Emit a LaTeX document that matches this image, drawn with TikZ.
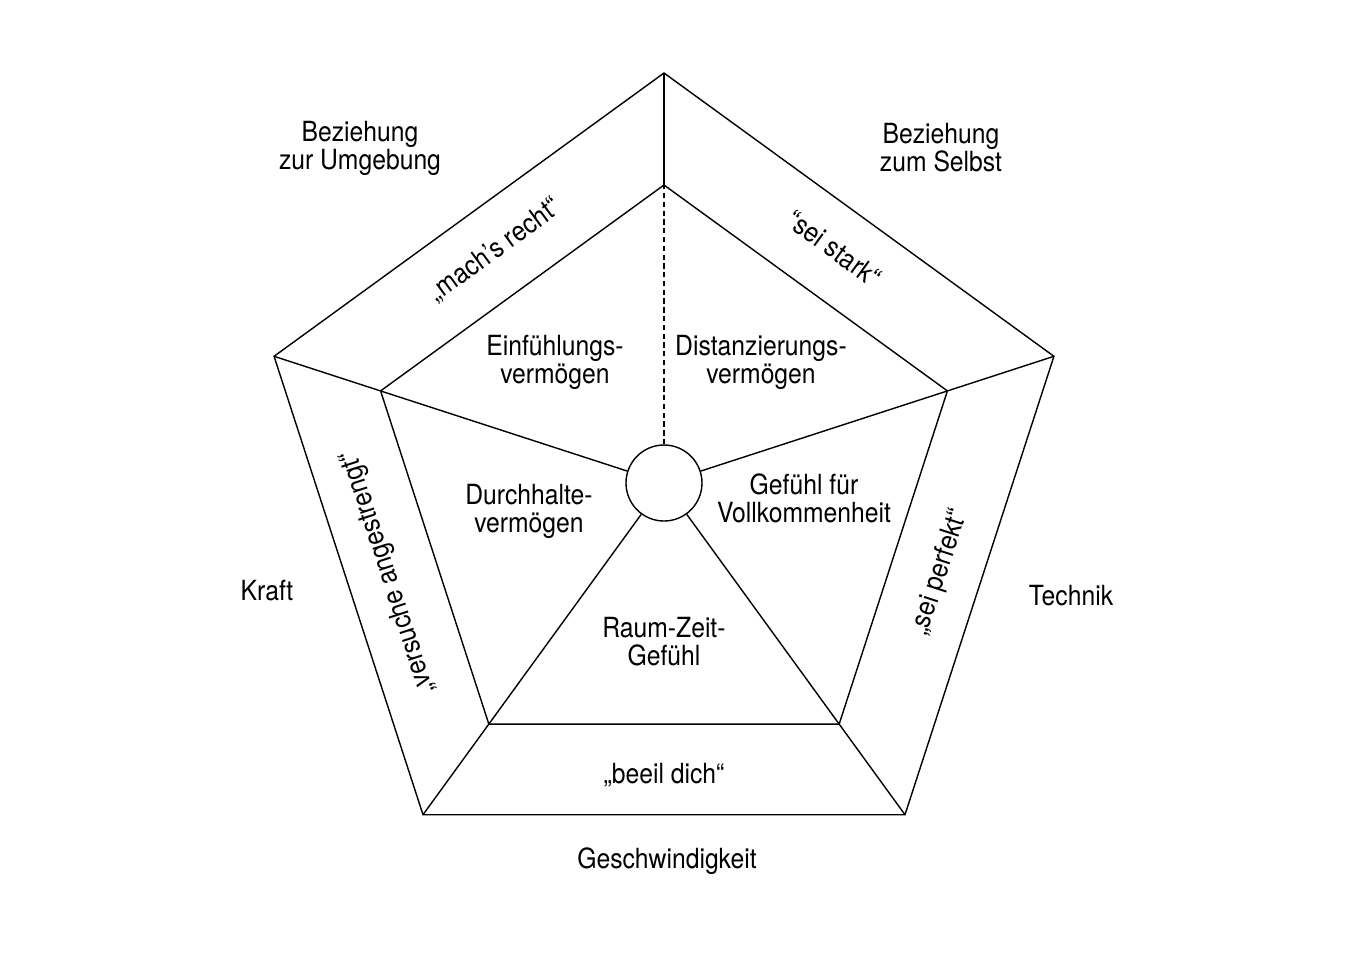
\documentclass[tikz,border=0pt]{standalone}
\usepackage{fontspec}
\setmainfont{TeX Gyre Heros}[FakeStretch=0.89]
\begin{document}
\begin{tikzpicture}[thin,
  lbl/.style={align=center,font=\fontsize{7.9}{8}\selectfont,inner sep=0pt},
  guide/.style={dash pattern=on 1.5pt off 1pt}]
\useasboundingbox (-6.64,-4.74) rectangle (6.90,4.83);
% Ecken aussen und innen
\foreach \a [count=\i] in {90,162,234,306,18}{
  \coordinate (o\i) at (\a:4.10);
  \coordinate (i\i) at (\a:2.98);
}
\draw (o1)--(o2)--(o3)--(o4)--(o5)--cycle;
\draw (i1)--(i2)--(i3)--(i4)--(i5)--cycle;
\foreach \i in {1,...,5} \draw (o\i)--(i\i);
\node[circle,draw,minimum size=0.76cm,inner sep=0pt] (hub) at (0,0) {};
\draw[guide] (hub)--(i1);
\foreach \i in {2,...,5} \draw (hub)--(i\i);
% Felder
\node[lbl] (einf) at (-1.09,1.21) {Einfühlungs-\\vermögen};
\node[lbl] (dist) at (0.97,1.21) {Distanzierungs-\\vermögen};
\node[lbl] (durch) at (-1.35,-0.28) {Durchhalte-\\vermögen};
\node[lbl] (voll) at (1.40,-0.15) {Gefühl für\\Vollkommenheit};
\node[lbl] (raumzeit) at (0,-1.59) {Raum-Zeit-\\Gefühl};
% Antreiber
\node[lbl,rotate=36] (mach) at (126:2.88) {„mach’s recht“};
\node[lbl,rotate=-36] (stark) at (54:2.90) {“sei stark“};
\node[lbl,rotate=108] (versuch) at (198:2.90) {„versuche angestrengt“};
\node[lbl,rotate=72] (perfekt) at (342:2.90) {„sei perfekt“};
\node[lbl] (beeil) at (270:2.92) {„beeil dich“};
% aussen
\node[lbl] (bzU) at (-3.04,3.35) {Beziehung\\zur Umgebung};
\node[lbl] (bzS) at (2.77,3.35) {Beziehung\\zum Selbst};
\node[lbl] (kraft) at (-3.97,-1.08) {Kraft};
\node[lbl] (technik) at (4.07,-1.13) {Technik};
\node[lbl] (tempo) at (0.03,-3.78) {Geschwindigkeit};
\end{tikzpicture}
\end{document}
